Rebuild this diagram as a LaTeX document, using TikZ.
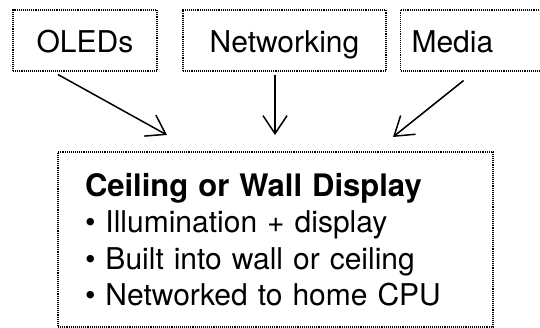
\documentclass[tikz,border=0pt]{standalone}
\usepackage{fontspec}
\setmainfont{TeX Gyre Heros}
\usetikzlibrary{shapes,backgrounds,arrows.meta}

\begin{document}
\begin{tikzpicture}[x=1pt, y=-1pt,
    dotbox/.style={draw=black, densely dotted, line width=1.1pt, inner sep=0pt,
      minimum height=61pt, text height=25pt, text depth=0pt,
      font=\fontsize{30}{36}\selectfont},
    arr/.style={line width=1.5pt, -{Straight Barb[length=18pt,width=24pt]}}]
    % frame %
    \useasboundingbox (0,0) rectangle (540,328);

    % source boxes %
    \node[dotbox, minimum width=144pt] (oleds) at (85,40.5) {OLEDs};
    \node[dotbox, minimum width=203pt] (net) at (284.5,40.5) {Networking};
    \node[dotbox, anchor=west, text width=130pt, align=left, inner xsep=11pt] (media) at (400,40.5) {Media};

    % display box %
    \node[draw=black, densely dotted, line width=1.1pt, inner ysep=0pt, inner xsep=27pt,
      text width=381pt, minimum height=175pt, align=left,
      font=\fontsize{30}{36.5}\selectfont] (disp) at (275.5,239.5)
      {{\fontsize{31}{36.5}\selectfont\bfseries Ceiling or Wall Display}\\
       \textbullet\ Illumination + display\\
       \textbullet\ Built into wall or ceiling\\
       \textbullet\ Networked to home CPU};

    % arrows %
    \coordinate (tipa) at (167,135);
    \coordinate (tipb) at (275,135);
    \coordinate (tipc) at (393,137);
    \draw [arr] ([xshift=-27pt,yshift=-3pt]oleds.south) -- (tipa);
    \draw [arr] ([xshift=-9.5pt,yshift=-3pt]net.south) -- (tipb);
    \draw [arr] ([xshift=-13pt,yshift=-9pt]media.south) -- (tipc);
\end{tikzpicture}
\end{document}
